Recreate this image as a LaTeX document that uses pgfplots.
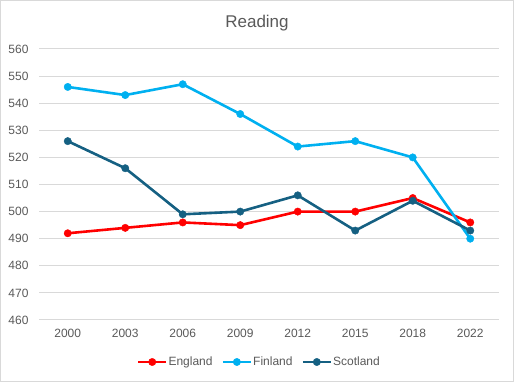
\documentclass[border=0pt]{standalone}
\usepackage{pgfplots}
\pgfplotsset{compat=1.18}
\usepackage{fontspec}
\setmainfont{Liberation Sans}
\definecolor{txt}{HTML}{595959}
\definecolor{gridc}{HTML}{D9D9D9}
\definecolor{eng}{HTML}{FF0000}
\definecolor{fin}{HTML}{00B0F0}
\definecolor{sco}{HTML}{156082}
\begin{document}
\begin{tikzpicture}
\draw[gridc, line width=1pt] (0.5pt,0.5pt) rectangle (513.5pt,381.5pt);
\node[text=txt, font=\fontsize{17}{20}\selectfont] at (257pt,359pt) {Reading};
\begin{axis}[
  at={(39pt,62pt)}, anchor=south west,
  scale only axis, width=460pt, height=271pt,
  xmin=-0.5, xmax=7.5, ymin=460, ymax=560,
  ytick={460,470,...,560},
  xtick={0,...,7},
  xticklabels={2000,2003,2006,2009,2012,2015,2018,2022},
  ymajorgrids, grid style={gridc, line width=1pt},
  axis line style={draw=none},
  major tick length=0pt,
  tick label style={text=txt, font=\fontsize{12}{14}\selectfont},
  /pgf/number format/assume math mode=true,
  /pgf/number format/1000 sep={},
  yticklabel style={xshift=-7pt},
  xticklabel style={yshift=-6pt},
  legend columns=3,
  legend style={draw=none, fill=none, at={(0.478,-0.155)}, anchor=center,
    font=\fontsize{12}{14}\selectfont, text=txt,
    /tikz/every odd column/.append style={column sep=0pt},
    /tikz/every even column/.append style={column sep=8pt},
    nodes={inner xsep=1pt}},
  legend image code/.code={\draw[#1, mark repeat=2, mark phase=2] plot coordinates {(0pt,0pt) (14pt,0pt) (28pt,0pt)};},
  every axis plot/.append style={line width=2.6pt, mark=*, mark size=3.7pt},
]
\addplot[eng, mark options={solid, fill=eng, draw=eng, line width=0.4pt}] coordinates {(0,492) (1,494) (2,496) (3,495) (4,500) (5,500) (6,505) (7,496)};
\addlegendentry{England}
\addplot[fin, mark options={solid, fill=fin, draw=fin, line width=0.4pt}] coordinates {(0,546) (1,543) (2,547) (3,536) (4,524) (5,526) (6,520) (7,490)};
\addlegendentry{Finland}
\addplot[sco, mark options={solid, fill=sco, draw=sco, line width=0.4pt}] coordinates {(0,526) (1,516) (2,499) (3,500) (4,506) (5,493) (6,504) (7,493)};
\addlegendentry{Scotland}
\end{axis}
\end{tikzpicture}
\end{document}
